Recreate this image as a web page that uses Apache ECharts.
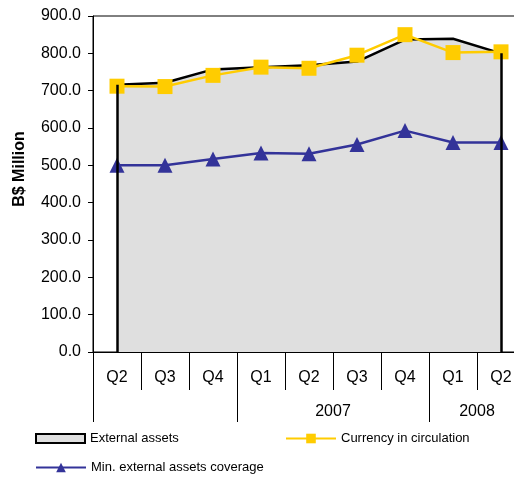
<!DOCTYPE html>
<html>
<head>
<meta charset="utf-8">
<script src="https://cdn.jsdelivr.net/npm/echarts@6/dist/echarts.min.js"></script>
<style>
html,body{margin:0;padding:0;background:#fff;}
#c{width:514px;height:477px;}
</style>
</head>
<body>
<div id="c"></div>
<script>
// Data
var periods = ['2006 Q2','2006 Q3','2006 Q4','2007 Q1','2007 Q2','2007 Q3','2007 Q4','2008 Q1','2008 Q2'];
var quarterLabels = ['Q2','Q3','Q4','Q1','Q2','Q3','Q4','Q1','Q2'];
var yearBoundaries = ['', '', '', '', '', '2007', '', '', '2008', ''];
var yearTickIdx = [0, 3, 7, 9];
var externalAssets = [716, 721, 757, 763, 768, 778, 837, 839, 800];
var currencyInCirculation = [712, 711, 741, 763, 760, 795, 850, 802, 804];
var minCoverage = [500, 500, 517, 533, 531, 556, 593, 561, 561];
var yTicks = [0, 100, 200, 300, 400, 500, 600, 700, 800, 900];

var FONT = 'Liberation Sans, Arial, sans-serif';
var FILL = '#dfdfdf';
var chart = echarts.init(document.getElementById('c'), null, {renderer: 'canvas'});

var last = periods.length - 1;
var option = {
  backgroundColor: '#fff',
  animation: false,
  grid: {
    left: 93, right: -11, top: 16, bottom: 125,
    outerBoundsMode: 'none', containLabel: false,
    show: true, borderColor: '#000', borderWidth: 1, backgroundColor: 'transparent'
  },
  legend: [
    {
      left: 35, top: 432, padding: 0, itemWidth: 49, itemHeight: 9, itemGap: 0,
      textStyle: {fontFamily: FONT, fontSize: 13, color: '#000'},
      data: [{name: 'External assets', icon: 'rect',
        itemStyle: {color: FILL, borderColor: '#000', borderWidth: 2}}]
    },
    {
      left: 285, top: 432, padding: 0, itemWidth: 50, itemHeight: 12, itemGap: 0,
      textStyle: {fontFamily: FONT, fontSize: 13, color: '#000'},
      data: ['Currency in circulation']
    },
    {
      left: 35, top: 461, padding: 0, itemWidth: 50, itemHeight: 12, itemGap: 0,
      textStyle: {fontFamily: FONT, fontSize: 13, color: '#000'},
      data: ['Min. external assets coverage']
    }
  ],
  xAxis: [
    {
      type: 'category', data: periods, boundaryGap: true, position: 'bottom',
      axisLine: {show: true, lineStyle: {color: '#000', width: 1}},
      axisTick: {show: true, length: 38, lineStyle: {color: '#000', width: 1}},
      axisLabel: {margin: 18, fontFamily: FONT, fontSize: 16, color: '#000', interval: 0,
        formatter: function (v, i) { return quarterLabels[i]; }},
      splitLine: {show: false}
    },
    {
      type: 'category', data: yearBoundaries.map(function (v, i) { return 'b' + i; }),
      boundaryGap: false, position: 'bottom',
      axisLine: {show: false},
      axisTick: {show: true, length: 70, lineStyle: {color: '#000', width: 1},
        interval: function (i) { return yearTickIdx.indexOf(i) >= 0; }},
      axisLabel: {margin: 52, fontFamily: FONT, fontSize: 16, color: '#000', interval: 0,
        formatter: function (v, i) { return yearBoundaries[i]; }},
      splitLine: {show: false}
    }
  ],
  yAxis: {
    type: 'value', min: 0, max: 900, interval: 100,
    name: 'B$ Million', nameLocation: 'middle', nameGap: 65, nameRotate: 90,
    nameTextStyle: {fontFamily: FONT, fontSize: 16, fontWeight: 'bold', color: '#000',
      padding: [0, 0, 0, 30]},
    axisLine: {show: true, lineStyle: {color: '#000', width: 1}},
    axisTick: {show: true, length: 5, inside: false, lineStyle: {color: '#000'}},
    axisLabel: {margin: 12, fontFamily: FONT, fontSize: 16, color: '#000',
      formatter: function (v) { return v.toFixed(1); }},
    splitLine: {show: false}
  },
  series: [
    {
      name: 'External assets', type: 'line', data: externalAssets,
      symbol: 'none', z: 1,
      lineStyle: {color: '#000', width: 2.5},
      itemStyle: {color: FILL},
      areaStyle: {color: FILL, opacity: 1},
      markLine: {
        silent: true, symbol: 'none', label: {show: false},
        lineStyle: {color: '#000', width: 2.5, type: 'solid'},
        data: [
          [{coord: [periods[0], 0]}, {coord: [periods[0], externalAssets[0]]}],
          [{coord: [periods[last], 0]}, {coord: [periods[last], externalAssets[last]]}]
        ]
      }
    },
    {
      name: 'Currency in circulation', type: 'line', data: currencyInCirculation,
      symbol: 'rect', symbolSize: 15, showAllSymbol: true, z: 3,
      lineStyle: {color: '#FFCC00', width: 2.5},
      itemStyle: {color: '#FFCC00'}
    },
    {
      name: 'Min. external assets coverage', type: 'line', data: minCoverage,
      symbol: 'triangle', symbolSize: 15, showAllSymbol: true, z: 4,
      lineStyle: {color: '#333399', width: 2.5},
      itemStyle: {color: '#333399'}
    }
  ]
};
chart.setOption(option);
</script>
</body>
</html>
